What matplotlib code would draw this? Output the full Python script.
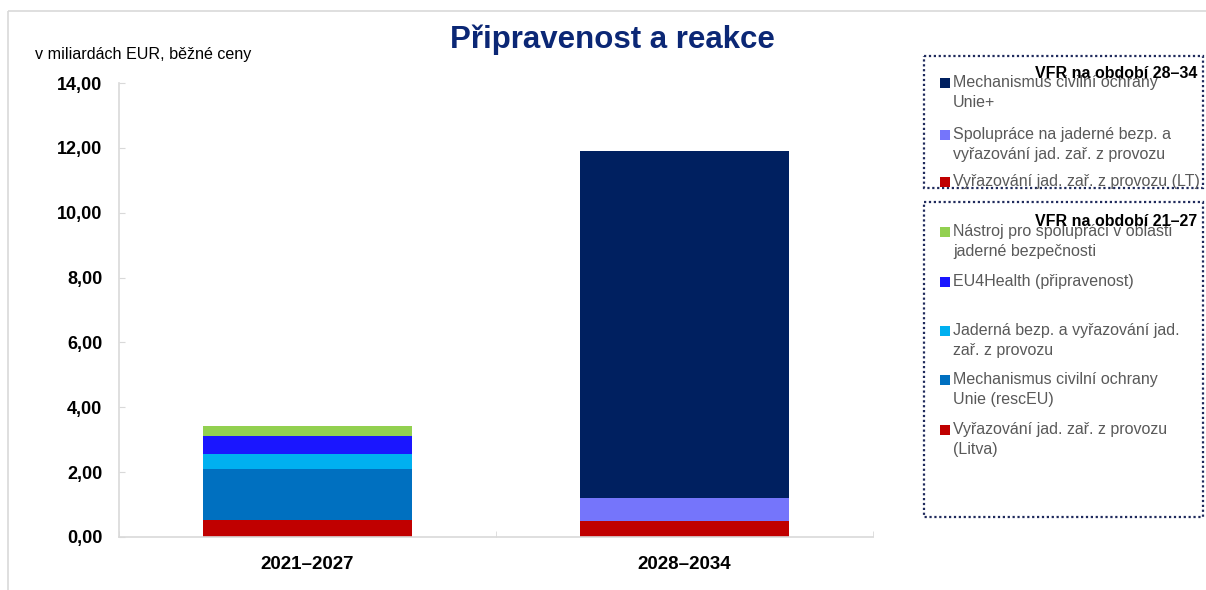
import matplotlib
matplotlib.use("Agg")
import matplotlib.pyplot as plt
from matplotlib.patches import Rectangle
from matplotlib.ticker import FixedLocator

plt.rcParams['font.family'] = ['Liberation Sans', 'DejaVu Sans']

# ---- data ----
categories = ["2021–2027", "2028–2034"]

# MFF 2021-27 series (bottom to top)
s21_labels = ["Vyřazování jad. zař. z provozu\n(Litva)",
              "Mechanismus civilní ochrany\nUnie (rescEU)",
              "Jaderná bezp. a vyřazování jad.\nzař. z provozu",
              "EU4Health (připravenost)",
              "Nástroj pro spolupráci v oblasti\njaderné bezpečnosti"]
s21_colors = ["#C00000", "#0070C0", "#00B0F0", "#1A16FF", "#92D050"]
s21_values = [[0.52, 0.0],
              [1.58, 0.0],
              [0.46, 0.0],
              [0.55, 0.0],
              [0.31, 0.0]]

# MFF 2028-34 series (bottom to top)
s28_labels = ["Vyřazování jad. zař. z provozu (LT)",
              "Spolupráce na jaderné bezp. a\nvyřazování jad. zař. z provozu",
              "Mechanismus civilní ochrany\nUnie+"]
s28_colors = ["#C00000", "#7575FB", "#002060"]
s28_values = [[0.0, 0.50],
              [0.0, 0.70],
              [0.0, 10.70]]

yticks = [0, 2, 4, 6, 8, 10, 12, 14]
ytick_labels = ["0,00", "2,00", "4,00", "6,00", "8,00", "10,00", "12,00", "14,00"]

title = "Připravenost a reakce"
unit_label = "v miliardách EUR, běžné ceny"
box1_title = "VFR na období 28–34"
box2_title = "VFR na období 21–27"

# ---- figure ----
W, H = 1206, 590
fig = plt.figure(figsize=(W / 100, H / 100), dpi=100)

ax = fig.add_axes([119 / W, 1 - 537 / H, (873 - 119) / W, (537 - 83) / H])
x = list(range(len(categories)))
bottom = [0.0] * len(categories)
for vals, col in zip(s21_values + s28_values, s21_colors + s28_colors):
    ax.bar(x, vals, bottom=bottom, width=0.556, color=col, linewidth=0, zorder=2)
    bottom = [b + v for b, v in zip(bottom, vals)]

ax.set_xlim(-0.5, len(categories) - 0.5)
ax.set_ylim(0, 14)
ax.set_yticks(yticks)
ax.set_yticklabels(ytick_labels, fontsize=13, fontweight='bold')
ax.set_xticks(x)
ax.set_xticklabels(categories, fontsize=13.5, fontweight='bold')
ax.xaxis.set_minor_locator(FixedLocator([-0.5 + i for i in range(len(categories) + 1)]))
ax.tick_params(axis='x', which='major', length=0, pad=14)
ax.tick_params(axis='x', which='minor', direction='in', length=4, color='#d9d9d9')
ax.tick_params(axis='y', direction='in', length=4, color='#d9d9d9', pad=12)
for s in ['top', 'right']:
    ax.spines[s].set_visible(False)
for s in ['left', 'bottom']:
    ax.spines[s].set_color('#d9d9d9')
    ax.spines[s].set_linewidth(1.2)

# ---- overlay in pixel coordinates ----
ov = fig.add_axes([0, 0, 1, 1], zorder=5)
ov.set_xlim(0, W)
ov.set_ylim(H, 0)
ov.axis('off')
ov.patch.set_alpha(0)

# outer frame
ov.add_patch(Rectangle((7.5, 10.5), W + 20, H + 20, fill=False, edgecolor='#d9d9d9', lw=1.2, clip_on=True))

ov.text(612, 40, title, ha='center', va='center', fontsize=22.5, fontweight='bold', color='#0B2775')
ov.text(35, 55, unit_label, ha='left', va='center', fontsize=11.6, color='#000000')

navy = '#1F2A5C'
def draw_box(y0, y1, ttl, labels, colors, ys):
    ov.add_patch(Rectangle((924, y0), 1203 - 924, y1 - y0, fill=False, edgecolor=navy,
                           lw=1.6, linestyle=(0, (1, 1.2))))
    for lab, col, yc in zip(labels, colors, ys):
        ov.add_patch(Rectangle((940, yc - 5), 10, 10, facecolor=col, edgecolor='none'))
        ov.text(953, yc - 8, lab, ha='left', va='top', fontsize=11.5, color='#595959',
                linespacing=1.38)
    ov.text(1197, ys[0] - 10, ttl, ha='right', va='center', fontsize=11.5, fontweight='bold',
            color='black')

draw_box(56, 188, box1_title, s28_labels[::-1], s28_colors[::-1], [83, 135, 182])
draw_box(202, 517, box2_title, s21_labels[::-1], s21_colors[::-1], [232, 282, 331, 380, 430])

fig.savefig("out.png", dpi=100)
